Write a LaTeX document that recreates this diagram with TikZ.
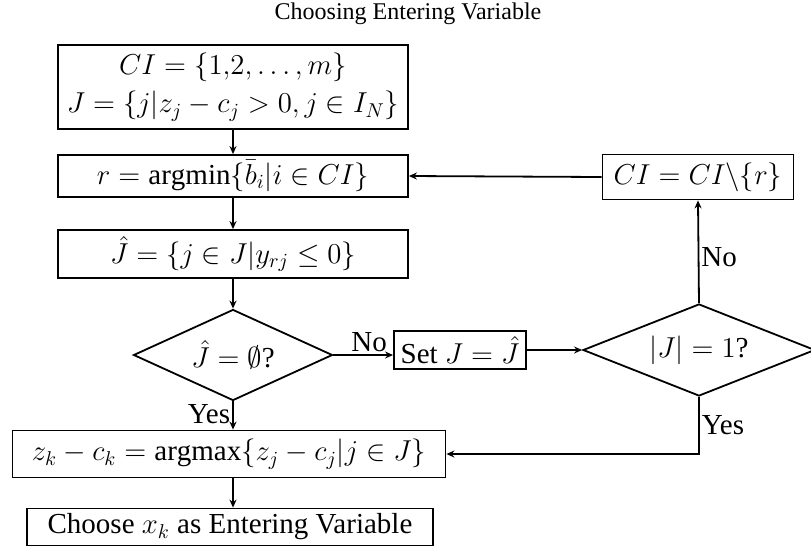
\documentclass[tikz,border=0pt]{standalone}
\usepackage{amssymb}
\usepackage{amsmath}
\usepackage{fontspec}
\setmainfont{Liberation Serif}
\usepackage{tikz}
\usetikzlibrary{shapes.geometric,arrows.meta}

\begin{document}
\begin{tikzpicture}[x=0.5pt, y=-0.5pt, line width=0.9pt, font=\fontsize{14.5}{17}\selectfont,
    box/.style={draw, rectangle, inner sep=0pt, align=center},
    decision/.style={draw, diamond, inner sep=0pt, aspect=2},
    arr/.style={-{Stealth[length=4pt, width=3.5pt]}},
    lbl/.style={inner sep=1pt}]

      \useasboundingbox (0,0) rectangle (811,559);

      \node [font=\fontsize{12}{14}\selectfont] at (408,14) (title) {Choosing Entering Variable};

      % main column
      \node [box, minimum width=175pt, minimum height=42pt] at (233,87) (init) {$CI=\{1{,}2,\ldots,m\}$\\[2pt]$J=\{j|z_j-c_j>0,j\in I_N\}$};
      \node [box, minimum width=175pt, minimum height=21pt] at (233,176) (rsel) {$r=\mathrm{argmin}\{\bar{b}_i|i\in CI\}$};
      \node [box, minimum width=175pt, minimum height=24pt] at (233,254) (jhat) {$\hat{J}=\{j\in J|y_{rj}\leq 0\}$};
      \node [decision, minimum width=99.5pt, minimum height=45.5pt] at (233,355) (empt) {$\hat{J}=\emptyset$?};
      \node [box, minimum width=216.5pt, minimum height=23.5pt] at (229,454) (zmax) {$z_k-c_k=\mathrm{argmax}\{z_j-c_j|j\in J\}$};
      \node [box, minimum width=203pt, minimum height=18.5pt] at (230,527) (enter) {Choose $x_k$ as Entering Variable};

      % right branch
      \node [box, minimum width=66pt, minimum height=19pt] at (460,350) (setj) {Set $J=\hat{J}$};
      \node [decision, minimum width=116pt, minimum height=46pt] at (699,350) (single) {$|J|=1$?};
      \node [box, minimum width=95.5pt, minimum height=22.5pt] at (698,177) (ciup) {$CI=CI\backslash\{r\}$};

    %
    % Connections
      \draw [arr] (init) -- (rsel);
      \draw [arr] (rsel) -- (jhat);
      \draw [arr] (jhat) -- (empt);
      \draw [arr] (empt.south) -- (empt.south |- zmax.north) node [lbl, pos=0.45, left] {Yes};
      \draw [arr] (zmax.south -| empt.south) -- (enter.north -| empt.south);
      \draw [arr] (empt.east) -- (empt.east -| setj.west) node [lbl, pos=0.6, above] {No};
      \draw [arr] (setj.east) -- (single.west);
      \draw [arr] (single.north) -- (ciup.south) node [lbl, pos=0.45, right] {No};
      \draw [arr] (ciup.west) -- (rsel.east);
      \draw [arr] (single.south) |- (zmax.east) node [lbl, pos=0.25, right] {Yes};
    \end{tikzpicture}
\end{document}
